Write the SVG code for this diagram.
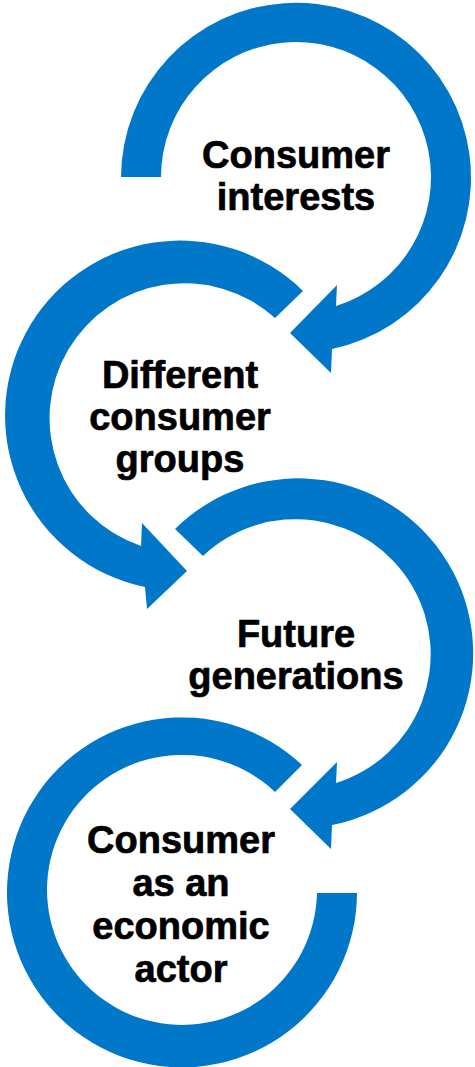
<svg xmlns="http://www.w3.org/2000/svg" width="475" height="1067" viewBox="0 0 475 1067">
<style>
.arc{fill:#0077C8;stroke:none}
.lbl{font-family:"Liberation Sans",Arial,sans-serif;font-weight:bold;font-size:38px;fill:#000;stroke:#000;stroke-width:0.7;text-anchor:middle}
</style>
<rect width="475" height="1067" fill="#fff"/>
<g id="connectors">
<path id="arc1" class="arc" d="M121 177 A175 175 0 1 1 332 349 L331 373 L290 333 L337 285 L336 306 A135 135 0 1 0 161 177 Z"/>
<path id="arc2" class="arc" d="M303 291 A175 175 0 1 0 145 587 L147 609 L187 571 L142 523 L141 546 A135 135 0 1 1 275 318 Z"/>
<path id="arc3" class="arc" d="M175 529 A175 175 0 1 1 332 825 L331 849 L290 809 L337 762 L336 783 A135 135 0 1 0 203 556 Z"/>
<path id="arc4" class="arc" d="M302 765 A175 175 0 1 0 357 893 L317 893 A135 135 0 1 1 275 792 Z"/>
</g>
<g id="node1">
<text class="lbl" x="296" y="168">Consumer</text>
<text class="lbl" x="296" y="210">interests</text>
</g>
<g id="node2">
<text class="lbl" x="180" y="388">Different</text>
<text class="lbl" x="180" y="430">consumer</text>
<text class="lbl" x="180" y="472">groups</text>
</g>
<g id="node3">
<text class="lbl" x="296" y="647">Future</text>
<text class="lbl" x="296" y="689">generations</text>
</g>
<g id="node4">
<text class="lbl" x="181" y="853">Consumer</text>
<text class="lbl" x="181" y="896">as an</text>
<text class="lbl" x="181" y="939">economic</text>
<text class="lbl" x="181" y="982">actor</text>
</g>
</svg>
